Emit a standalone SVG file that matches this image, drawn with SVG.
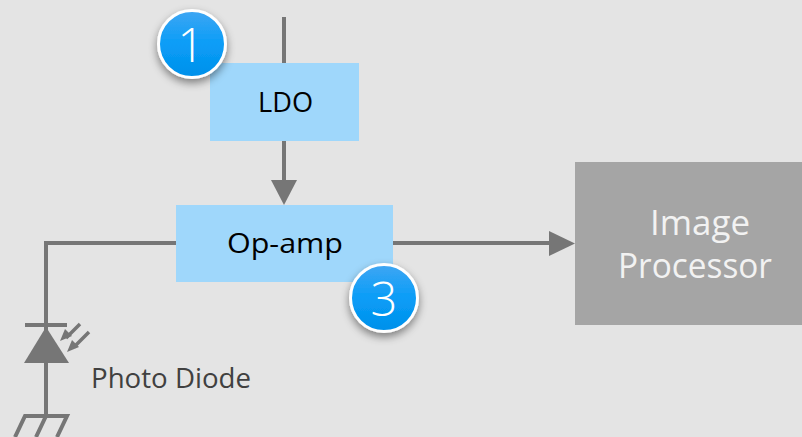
<svg xmlns="http://www.w3.org/2000/svg" width="802" height="437" viewBox="0 0 802 437">
<style>
text{font-family:"Open Sans","Noto Sans","Liberation Sans",sans-serif}
.w{fill:none;stroke:#767676;stroke-width:4}
.t{fill:#767676;stroke:none}
.b{fill:#9fd7fb}
.n{fill:#fff;font-size:47px;font-weight:300;text-anchor:middle}
</style>
<defs>
<linearGradient id="g" x1="0" y1="0" x2="0" y2="1"><stop offset="0" stop-color="#3fa6f3"/><stop offset=".5" stop-color="#0a9df7"/><stop offset="1" stop-color="#0090ea"/></linearGradient>
<filter id="s" x="-30%" y="-30%" width="160%" height="170%"><feDropShadow dx="0" dy="4" stdDeviation="4" flood-color="#000" flood-opacity=".45"/></filter>
</defs>
<rect width="802" height="437" fill="#e4e4e4"/>
<g id="connectors">
<path class="w" d="M284 17V64"/>
<path class="w" d="M284 140V182"/>
<path class="t" d="M271 180H297L284 205Z"/>
<path class="w" d="M176 243H46V416"/>
<path class="w" d="M392 243H552"/>
<path class="t" d="M549 231L575 243.500L549 256Z"/>
</g>
<g id="ldo"><rect class="b" x="210" y="63" width="149" height="78"/><text x="285.500" y="112" font-size="27" text-anchor="middle" fill="#000" textLength="55" lengthAdjust="spacingAndGlyphs">LDO</text></g>
<g id="opamp"><rect class="b" x="176" y="205" width="217" height="77"/><text x="285" y="253" font-size="27" text-anchor="middle" fill="#000" textLength="116" lengthAdjust="spacingAndGlyphs">Op-amp</text></g>
<g id="processor"><rect x="575" y="162" width="227" height="163" fill="#a5a5a5"/><text x="700" y="235" font-size="34" text-anchor="middle" fill="#f2f2f2" textLength="100" lengthAdjust="spacingAndGlyphs">Image</text><text x="695" y="278" font-size="34" text-anchor="middle" fill="#f2f2f2" textLength="154" lengthAdjust="spacingAndGlyphs">Processor</text></g>
<g id="badge1"><circle cx="192" cy="44" r="33.500" fill="url(#g)" stroke="#fff" stroke-width="3" filter="url(#s)"/><text class="n" x="191" y="62">1</text></g>
<g id="badge3"><circle cx="384" cy="298" r="33.500" fill="url(#g)" stroke="#fff" stroke-width="3" filter="url(#s)"/><text class="n" x="384" y="316">3</text></g>
<g id="diode">
<path class="w" d="M25 325H67"/>
<path class="t" stroke-linejoin="round" d="M46 327L69 363H24Z"/>
<path d="M80 324L66 338M89 332L74 347" fill="none" stroke="#767676" stroke-width="3.500"/>
<path class="t" d="M60 341L65 329L72 336Z"/>
<path class="t" d="M67 352L72 340L79 347Z"/>
<text x="91" y="388" font-size="27" fill="#404040" textLength="160" lengthAdjust="spacingAndGlyphs">Photo Diode</text>
</g>
<g id="ground"><path d="M15 437L25 416H67L57 437M36 437L46 416" fill="none" stroke="#767676" stroke-width="4"/></g>
</svg>
